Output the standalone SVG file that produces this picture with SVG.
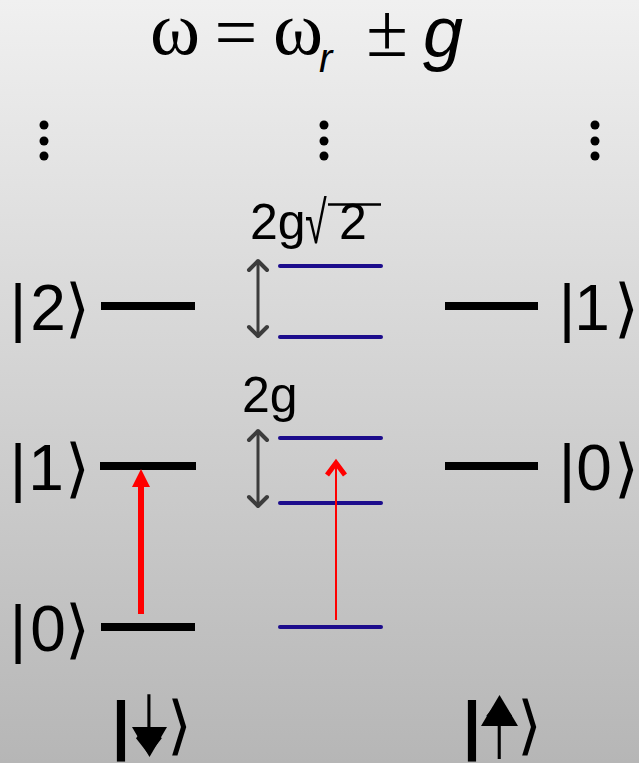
<svg xmlns="http://www.w3.org/2000/svg" width="639" height="763" viewBox="0 0 639 763">
<defs>
<linearGradient id="bg" x1="0" y1="0" x2="0" y2="1">
<stop offset="0" stop-color="#f0f0f0"/>
<stop offset="1" stop-color="#b6b6b6"/>
</linearGradient>
<style>
.lvl{stroke:#000;stroke-width:8;}
.blv{stroke:#1c0c8c;stroke-width:4;stroke-linecap:round;}
.ket{font-family:"Liberation Sans",Arial,sans-serif;font-size:64px;fill:#000;}
.br{font-family:"DejaVu Sans",sans-serif;font-size:64px;fill:#000;font-weight:200;}
.dot{fill:#000;}
.dbl{stroke:#3c3c3c;stroke-width:3;fill:none;}
.dblh{stroke:#3c3c3c;stroke-width:4;fill:none;stroke-linecap:round;stroke-linejoin:round;}
.lab{font-family:"Liberation Sans",Arial,sans-serif;font-size:50px;fill:#000;}
.ser{font-family:"Liberation Serif","Times New Roman",serif;font-size:76px;fill:#000;}
.itl{font-family:"Liberation Sans",Arial,sans-serif;font-style:italic;fill:#000;}
</style>
</defs>
<rect x="0" y="0" width="639" height="763" fill="url(#bg)"/>

<g id="title">
<text class="ser" x="175" y="54" text-anchor="middle">ω</text>
<text class="ser" x="236" y="58" text-anchor="middle">=</text>
<text class="ser" x="298" y="54" text-anchor="middle">ω</text>
<text class="itl" x="319" y="72" font-size="40">r</text>
<text class="ser" x="387" y="56" text-anchor="middle">±</text>
<text class="itl" x="423" y="57" font-size="72">g</text>
</g>

<g id="dots">
<circle class="dot" cx="44" cy="125" r="4.5"/>
<circle class="dot" cx="44" cy="141" r="4.5"/>
<circle class="dot" cx="44" cy="156" r="4.5"/>
<circle class="dot" cx="324" cy="125" r="4.5" fill="#333"/>
<circle class="dot" cx="324" cy="141" r="4.5" fill="#333"/>
<circle class="dot" cx="324" cy="156" r="4.5" fill="#333"/>
<circle class="dot" cx="595" cy="125" r="4.5"/>
<circle class="dot" cx="595" cy="141" r="4.5"/>
<circle class="dot" cx="595" cy="156" r="4.5"/>
</g>

<g id="left-2">
<line class="lvl" x1="101" y1="306" x2="195" y2="306"/>
<text class="ket" x="18" y="330" text-anchor="middle">|</text>
<text class="ket" x="48" y="330" text-anchor="middle">2</text>
<text class="br" x="77" y="330" text-anchor="middle">⟩</text>
</g>
<g id="left-1">
<line class="lvl" x1="100" y1="466" x2="196" y2="466"/>
<text class="ket" x="18" y="490" text-anchor="middle">|</text>
<text class="ket" x="46" y="490" text-anchor="middle">1</text>
<text class="br" x="77" y="490" text-anchor="middle">⟩</text>
</g>
<g id="left-0">
<line class="lvl" x1="101" y1="627" x2="195" y2="627"/>
<text class="ket" x="18" y="651" text-anchor="middle">|</text>
<text class="ket" x="48" y="651" text-anchor="middle">0</text>
<text class="br" x="77" y="651" text-anchor="middle">⟩</text>
</g>
<g id="right-1">
<line class="lvl" x1="445" y1="306" x2="538" y2="306"/>
<text class="ket" x="567" y="330" text-anchor="middle">|</text>
<text class="ket" x="592" y="330" text-anchor="middle">1</text>
<text class="br" x="626" y="330" text-anchor="middle">⟩</text>
</g>
<g id="right-0">
<line class="lvl" x1="445" y1="466" x2="538" y2="466"/>
<text class="ket" x="567" y="490" text-anchor="middle">|</text>
<text class="ket" x="594" y="490" text-anchor="middle">0</text>
<text class="br" x="626" y="490" text-anchor="middle">⟩</text>
</g>

<g id="mid-levels">
<line class="blv" x1="280" y1="266" x2="381" y2="266"/>
<line class="blv" x1="280" y1="337" x2="381" y2="337"/>
<line class="blv" x1="280" y1="438" x2="381" y2="438"/>
<line class="blv" x1="280" y1="503" x2="381" y2="503"/>
<line class="blv" x1="280" y1="627" x2="381" y2="627"/>
</g>

<g id="label-2g-sqrt2">
<text class="lab" x="250" y="239">2g</text>
<text transform="translate(305,243) scale(0.9,1.35)" x="0" y="0" font-family="DejaVu Sans,sans-serif" font-size="44" font-weight="200" fill="#000">√</text>
<text class="lab" x="339" y="239">2</text>
<line x1="328" y1="204.5" x2="381" y2="204.5" stroke="#000" stroke-width="2.5"/>
</g>
<g id="label-2g">
<text class="lab" x="242" y="412">2g</text>
</g>

<g id="connectors">
<line class="dbl" x1="258" y1="263" x2="258" y2="334"/>
<polyline class="dblh" points="249,270 258,261 267,270"/>
<polyline class="dblh" points="249,327 258,336 267,327"/>
<line class="dbl" x1="258" y1="432" x2="258" y2="504"/>
<polyline class="dblh" points="249,440 258,431 267,440"/>
<polyline class="dblh" points="249,497 258,506 267,497"/>
<line x1="141" y1="614" x2="141" y2="484" stroke="#ff0000" stroke-width="6"/>
<polygon points="132,487 141,469 150,487" fill="#ff0000"/>
<line x1="336" y1="620" x2="336" y2="464" stroke="#ff0000" stroke-width="2"/>
<polyline points="327,475 336,463 345,475" stroke="#ff0000" stroke-width="5" fill="none" stroke-linejoin="miter"/>
</g>

<g id="spin-down">
<text class="ket" x="121" y="747" text-anchor="middle" font-weight="bold" fill="#16103c">|</text>
<text class="br" transform="translate(149,754) scale(1,1.28)" x="0" y="0" text-anchor="middle" fill="#555">↓</text>
<polygon points="132,727 167,727 149.5,757" fill="#000"/>
<text class="br" x="179" y="747" text-anchor="middle">⟩</text>
</g>
<g id="spin-up">
<text class="ket" x="472" y="747" text-anchor="middle" font-weight="bold" fill="#3a0808">|</text>
<text class="br" transform="translate(499,759) scale(1,1.25)" x="0" y="0" text-anchor="middle" fill="#555">↑</text>
<polygon points="481,726 518,726 499.5,695" fill="#000"/>
<text class="br" x="529" y="747" text-anchor="middle">⟩</text>
</g>
</svg>
